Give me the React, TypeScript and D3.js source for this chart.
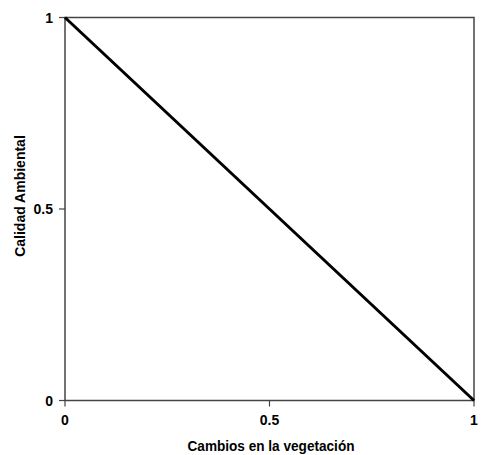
import React from "react";
import * as d3 from "d3";

const xValues = [0, 1];
const yValues = [1, 0];
const xTicks = [0, 0.5, 1];
const yTicks = [0, 0.5, 1];
const xTickLabels = ["0", "0.5", "1"];
const yTickLabels = ["0", "0.5", "1"];
const xTitle = "Cambios en la vegetación";
const yTitle = "Calidad Ambiental";

export default function App() {
  const W = 483, H = 455;
  const left = 65, right = 474, top = 17.5, bottom = 400.5;
  const x = d3.scaleLinear().domain([0, 1]).range([left, right]);
  const y = d3.scaleLinear().domain([0, 1]).range([bottom, top]);
  const pts = xValues.map((v, i) => [v, yValues[i]] as [number, number]);
  const line = d3.line<[number, number]>().x(d => x(d[0])).y(d => y(d[1]));
  const font = "'Liberation Sans', Arial, sans-serif";
  return (
    <svg width={W} height={H} style={{ position: "absolute", left: 0, top: 0, background: "#fff" }}>
      <rect x={left} y={top} width={right - left} height={bottom - top} fill="none" stroke="#444" strokeWidth={1.5} />
      {yTicks.map((t, i) => (
        <g key={"y" + i}>
          <line x1={left - 6} x2={left} y1={y(t)} y2={y(t)} stroke="#444" strokeWidth={1.2} />
          <text x={left - 12} y={y(t)} textAnchor="end" dominantBaseline="central" fontFamily={font} fontWeight="bold" fontSize={14} fill="#000">{yTickLabels[i]}</text>
        </g>
      ))}
      {xTicks.map((t, i) => (
        <g key={"x" + i}>
          <line x1={x(t)} x2={x(t)} y1={bottom} y2={bottom + 6} stroke="#444" strokeWidth={1.2} />
          <text x={x(t)} y={bottom + 19} textAnchor="middle" dominantBaseline="central" fontFamily={font} fontWeight="bold" fontSize={14} fill="#000">{xTickLabels[i]}</text>
        </g>
      ))}
      <path d={line(pts) || ""} fill="none" stroke="#000" strokeWidth={3} />
      <text x={271} y={445.5} textAnchor="middle" dominantBaseline="central" fontFamily={font} fontWeight="bold" fontSize={15} textLength={167} lengthAdjust="spacingAndGlyphs" fill="#000">{xTitle}</text>
      <text transform={`translate(20, 196) rotate(-90)`} textAnchor="middle" dominantBaseline="central" fontFamily={font} fontWeight="bold" fontSize={14} fill="#000">{yTitle}</text>
    </svg>
  );
}
